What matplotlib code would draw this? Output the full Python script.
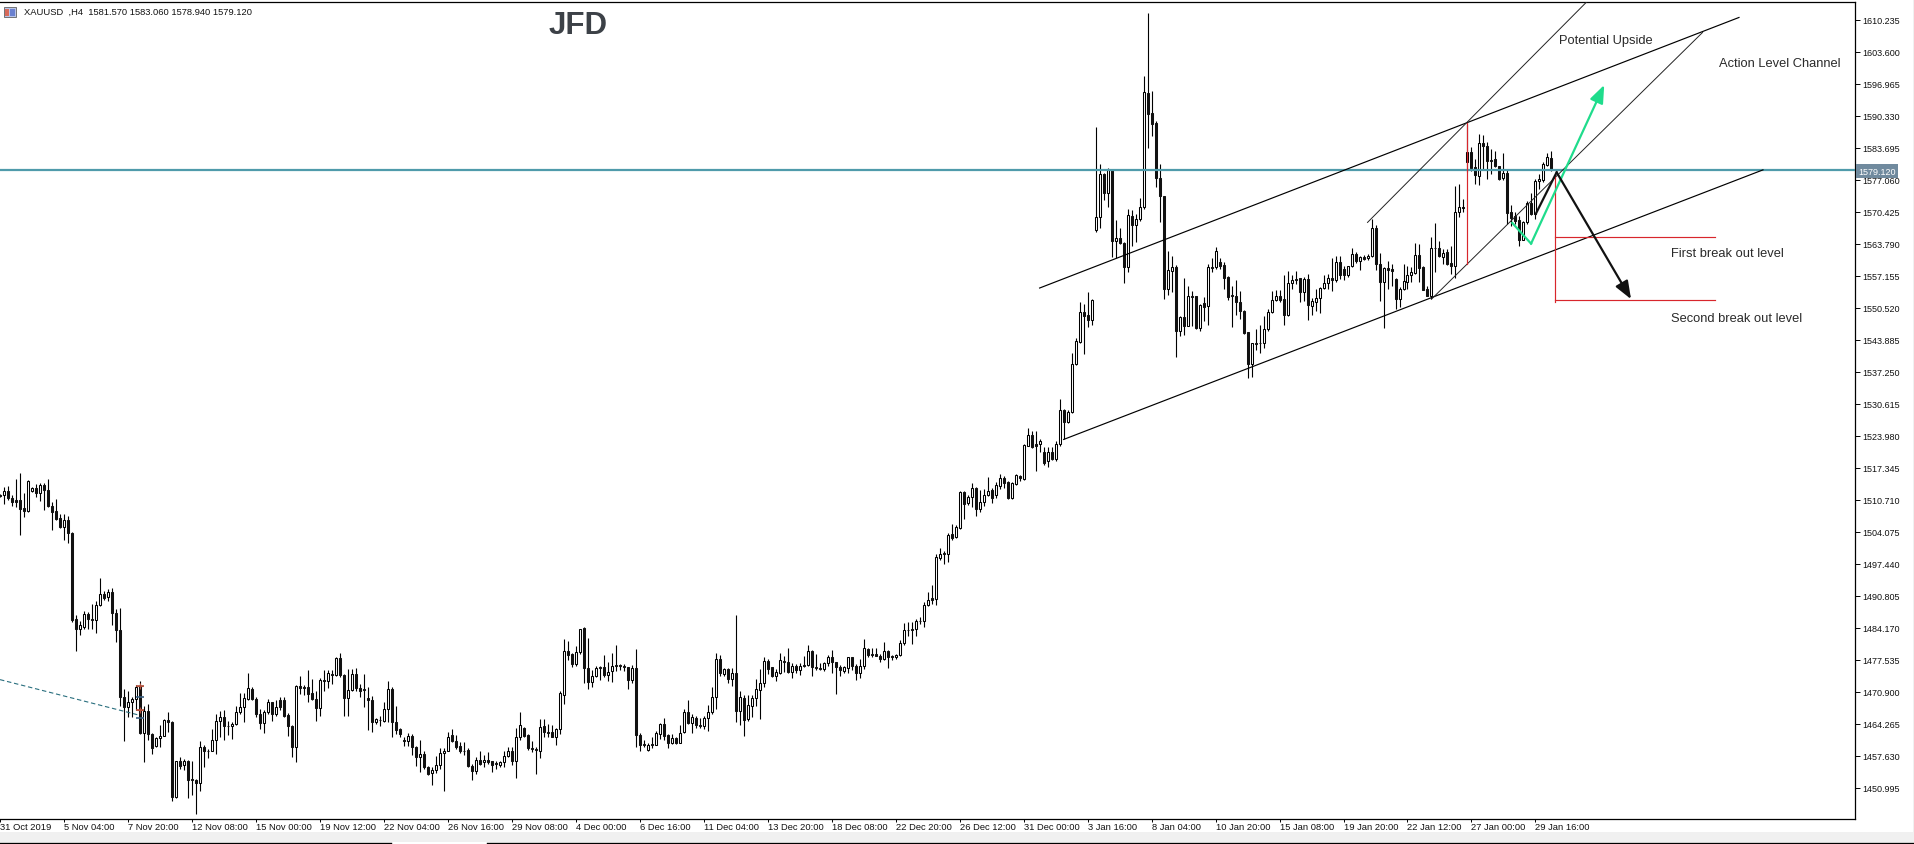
import numpy as np
import matplotlib
matplotlib.use('Agg')
import matplotlib.pyplot as plt
from matplotlib.patches import Rectangle

plt.rcParams['font.family'] = ['Liberation Sans', 'DejaVu Sans']

# --- XAUUSD H4 candles ---
opens = [
    1511.7,1511.6,1512.5,1511.0,1510.6,1510.7,1509.0,1508.4,1512.6,1513.1,
    1512.2,1513.8,1512.7,1509.3,1508.3,1506.9,1505.1,1506.5,1503.9,1485.9,
    1483.9,1484.3,1487.0,1485.9,1485.8,1488.9,1491.2,1490.5,1491.5,1487.2,
    1483.6,1469.9,1467.7,1468.7,1469.3,1472.0,1462.3,1466.8,1462.1,1459.7,
    1461.2,1461.8,1465.0,1464.6,1449.0,1456.5,1455.6,1456.5,1452.7,1452.6,
    1451.9,1459.4,1458.7,1458.7,1460.8,1464.9,1465.6,1463.8,1463.7,1464.2,
    1466.6,1467.7,1469.4,1471.5,1469.4,1466.3,1464.4,1466.6,1468.7,1466.3,
    1469.1,1469.2,1466.1,1463.7,1459.4,1472.0,1471.9,1471.8,1470.6,1469.4,
    1467.6,1473.3,1473.2,1474.5,1474.4,1477.9,1474.4,1469.5,1471.3,1474.5,
    1471.6,1471.5,1469.5,1469.2,1464.7,1465.1,1464.9,1467.3,1471.5,1464.7,
    1463.2,1460.9,1460.6,1461.7,1459.4,1457.3,1457.9,1455.2,1454.0,1454.7,
    1455.6,1458.1,1458.7,1461.9,1460.6,1459.6,1458.7,1458.8,1455.4,1454.5,
    1456.8,1456.3,1456.8,1456.5,1456.1,1455.8,1456.3,1457.5,1458.5,1456.6,
    1461.6,1463.3,1461.9,1459.2,1459.0,1458.7,1463.7,1462.6,1462.6,1461.6,
    1463.2,1470.3,1479.3,1478.7,1476.7,1479.1,1484.1,1475.8,1473.0,1474.2,
    1476.0,1476.0,1474.4,1475.1,1476.4,1476.4,1476.2,1476.0,1473.4,1475.8,
    1461.9,1460.1,1458.9,1460.1,1459.9,1462.2,1464.2,1461.9,1460.3,1461.2,
    1460.3,1462.5,1466.6,1464.4,1465.4,1463.9,1463.7,1465.4,1466.6,1469.7,
    1477.7,1474.6,1475.6,1473.5,1474.7,1466.8,1469.6,1465.3,1468.0,1469.5,
    1471.3,1472.6,1477.2,1476.0,1474.2,1474.8,1477.3,1477.0,1474.9,1476.3,
    1475.5,1476.5,1476.5,1479.3,1476.0,1475.8,1475.6,1476.8,1478.0,1477.0,
    1476.0,1475.1,1475.8,1478.0,1476.2,1474.7,1476.3,1479.8,1478.7,1478.7,
    1478.4,1477.6,1479.4,1478.2,1478.0,1478.5,1480.9,1483.7,1483.8,1483.8,
    1485.6,1485.6,1488.9,1490.3,1490.1,1498.6,1499.6,1499.5,1503.5,1502.9,
    1504.9,1512.3,1510.0,1511.2,1513.1,1508.7,1510.2,1511.6,1512.7,1511.7,
    1513.6,1515.2,1514.3,1511.0,1513.9,1515.6,1514.9,1521.9,1524.1,1522.2,
    1522.2,1520.5,1518.7,1520.7,1519.2,1522.3,1529.3,1526.9,1528.8,1538.8,
    1543.4,1549.6,1549.0,1548.0,1566.7,1569.4,1578.3,1574.2,1579.1,1564.4,
    1565.0,1563.9,1559.0,1569.6,1567.7,1568.9,1571.3,1595.0,1590.8,1588.8,
    1577.4,1573.6,1554.3,1558.2,1558.9,1545.6,1548.5,1546.8,1553.0,1552.9,
    1546.3,1551.5,1550.8,1558.9,1558.9,1559.9,1559.4,1556.8,1553.1,1553.0,
    1551.6,1549.9,1545.4,1538.8,1543.2,1543.3,1543.1,1546.2,1549.7,1552.2,
    1552.9,1552.3,1549.1,1555.6,1556.5,1556.6,1553.7,1556.5,1550.8,1551.8,
    1552.5,1554.7,1555.6,1556.6,1556.3,1559.9,1558.5,1557.2,1559.1,1561.6,
    1560.3,1561.1,1560.8,1561.3,1567.0,1559.5,1555.8,1558.7,1558.6,1556.5,
    1552.3,1554.4,1555.9,1557.3,1557.7,1561.5,1558.9,1554.3,1553.0,1563.0,
    1563.0,1561.0,1562.1,1559.8,1559.2,1570.3,1571.1,1580.7,1582.9,1579.6,
    1577.9,1584.6,1584.1,1581.2,1581.4,1579.8,1577.4,1578.4,1570.3,1569.6,
    1568.7,1564.6,1568.2,1572.2,1569.9,1576.7,1577.0,1580.2,1581.57]
highs = [
    1511.9,1513.3,1513.6,1511.6,1515.0,1516.3,1512.2,1514.7,1513.4,1514.0,
    1514.2,1514.2,1515.0,1510.2,1510.9,1507.8,1507.8,1507.3,1504.1,1486.7,
    1485.6,1487.7,1487.5,1489.1,1489.8,1494.4,1491.7,1492.2,1492.4,1488.1,
    1488.3,1471.5,1471.1,1469.9,1472.2,1473.1,1468.0,1468.4,1462.3,1461.5,
    1463.9,1465.3,1466.6,1464.9,1456.6,1457.3,1457.0,1456.8,1456.6,1452.7,
    1460.6,1459.9,1459.0,1463.2,1466.3,1466.8,1467.0,1464.9,1464.7,1468.0,
    1470.6,1470.6,1474.8,1471.8,1469.7,1467.3,1467.2,1469.3,1468.8,1469.1,
    1469.7,1469.7,1466.5,1463.9,1472.2,1474.1,1472.2,1475.4,1473.5,1471.1,
    1473.7,1475.4,1475.3,1475.3,1478.0,1478.9,1474.6,1475.6,1475.6,1475.8,
    1472.5,1474.6,1471.8,1470.1,1465.4,1465.8,1468.7,1473.2,1471.8,1468.0,
    1463.4,1461.5,1462.4,1462.1,1459.7,1460.8,1458.7,1455.4,1455.2,1457.5,
    1459.2,1459.2,1462.6,1463.2,1461.9,1460.4,1460.4,1459.2,1455.9,1457.3,
    1458.5,1457.7,1458.3,1456.6,1456.6,1456.6,1458.7,1459.4,1459.4,1463.4,
    1466.6,1463.5,1462.1,1460.7,1459.4,1465.3,1465.3,1464.2,1464.0,1463.3,
    1471.0,1481.8,1481.4,1478.9,1480.3,1484.0,1484.3,1482.0,1475.3,1476.2,
    1476.3,1478.5,1477.0,1478.9,1480.6,1476.7,1476.7,1476.1,1476.4,1479.8,
    1462.3,1460.9,1460.3,1461.6,1462.8,1464.4,1465.4,1462.1,1462.1,1461.6,
    1463.9,1467.3,1469.2,1466.3,1465.8,1465.4,1465.9,1468.2,1471.8,1478.9,
    1478.5,1475.9,1475.8,1475.8,1486.8,1471.1,1470.3,1470.2,1470.2,1473.5,
    1475.6,1478.0,1477.7,1476.1,1475.6,1478.9,1478.4,1479.9,1476.9,1476.7,
    1476.9,1478.2,1480.6,1479.6,1478.7,1476.9,1477.0,1478.5,1479.6,1477.1,
    1476.4,1476.3,1478.0,1478.1,1476.7,1477.7,1481.8,1480.0,1479.9,1479.9,
    1478.7,1481.2,1479.6,1478.5,1478.7,1481.6,1485.2,1485.3,1485.3,1486.0,
    1486.3,1489.6,1491.5,1493.0,1499.5,1500.6,1500.1,1503.8,1505.6,1505.5,
    1512.6,1512.6,1511.6,1514.1,1513.4,1512.7,1512.9,1515.4,1513.1,1514.3,
    1516.0,1515.6,1514.5,1514.3,1516.1,1515.8,1522.2,1525.6,1524.9,1524.9,
    1523.2,1521.6,1521.6,1521.6,1522.8,1531.6,1529.5,1529.3,1541.1,1544.2,
    1551.7,1551.3,1553.7,1552.3,1587.9,1580.3,1578.5,1579.4,1579.3,1568.7,
    1567.0,1564.1,1571.0,1570.8,1570.0,1573.2,1598.5,1611.6,1595.4,1589.2,
    1580.3,1573.7,1562.3,1561.3,1559.4,1548.7,1556.6,1555.1,1554.0,1553.0,
    1551.3,1552.8,1559.6,1560.9,1563.2,1560.9,1560.0,1557.0,1555.1,1556.2,
    1554.0,1550.1,1545.5,1543.3,1546.2,1546.9,1548.9,1550.2,1554.0,1554.2,
    1554.2,1557.3,1558.2,1557.3,1558.2,1556.6,1556.8,1557.5,1552.6,1554.4,
    1554.9,1557.3,1557.5,1560.9,1561.3,1561.3,1559.2,1559.2,1562.8,1562.0,
    1561.3,1561.4,1561.7,1568.9,1567.7,1561.8,1558.9,1560.1,1559.6,1556.6,
    1554.8,1559.6,1559.2,1558.9,1563.9,1563.7,1559.2,1555.1,1565.1,1568.0,
    1564.4,1562.7,1562.6,1563.4,1575.7,1576.2,1573.1,1588.7,1583.8,1581.4,
    1586.5,1586.3,1584.8,1583.4,1583.1,1580.0,1582.5,1579.3,1571.8,1570.3,
    1569.5,1568.6,1572.6,1574.4,1577.2,1578.2,1580.7,1582.7,1583.06]
lows = [
    1511.2,1509.8,1510.7,1509.5,1509.1,1503.3,1507.2,1508.2,1512.4,1511.2,
    1510.5,1508.6,1509.1,1504.5,1506.4,1504.8,1502.4,1501.7,1485.3,1479.4,
    1482.7,1483.9,1483.9,1484.0,1483.0,1488.7,1490.0,1489.8,1484.8,1481.1,
    1468.0,1460.6,1465.6,1465.6,1467.0,1462.1,1456.3,1460.8,1457.9,1459.4,
    1459.4,1461.7,1462.5,1448.3,1448.8,1454.9,1454.7,1448.9,1449.4,1445.6,
    1450.4,1455.2,1457.2,1458.5,1457.9,1461.6,1460.8,1461.9,1461.1,1464.0,
    1466.3,1464.7,1469.1,1469.1,1465.6,1463.2,1462.4,1466.3,1464.9,1465.9,
    1467.2,1465.6,1461.8,1457.4,1456.4,1470.4,1470.2,1468.7,1469.1,1464.9,
    1465.9,1471.1,1471.6,1472.5,1474.1,1473.9,1465.9,1465.9,1471.1,1471.1,
    1469.7,1467.7,1463.0,1462.5,1464.1,1463.7,1464.6,1464.7,1461.5,1462.1,
    1461.6,1459.7,1459.7,1457.7,1455.4,1454.2,1454.9,1453.6,1451.6,1454.0,
    1454.9,1450.3,1458.5,1460.4,1459.0,1458.1,1457.7,1455.2,1452.6,1453.9,
    1455.6,1455.2,1455.9,1454.3,1454.9,1455.2,1455.2,1457.3,1455.7,1453.1,
    1460.9,1461.5,1458.9,1458.3,1453.9,1457.2,1461.5,1461.5,1461.5,1459.9,
    1462.1,1468.4,1477.5,1476.1,1476.3,1478.7,1472.7,1471.5,1471.8,1474.0,
    1473.3,1473.9,1473.1,1472.9,1475.2,1475.3,1475.1,1471.5,1472.6,1459.5,
    1458.7,1459.4,1458.7,1459.2,1459.8,1461.1,1460.9,1459.2,1460.1,1460.1,
    1460.2,1462.3,1464.2,1462.4,1463.3,1463.3,1463.2,1462.8,1466.3,1467.3,
    1474.2,1474.2,1472.6,1472.0,1464.6,1463.9,1461.8,1464.9,1465.6,1468.0,
    1465.3,1471.8,1474.6,1473.9,1473.2,1474.6,1474.9,1474.7,1473.8,1474.7,
    1474.4,1476.1,1476.3,1474.2,1475.3,1475.3,1475.1,1476.3,1474.8,1470.4,
    1474.2,1474.7,1474.7,1475.5,1473.4,1473.7,1475.6,1478.0,1478.0,1478.2,
    1477.0,1477.4,1475.9,1477.4,1477.6,1478.4,1480.5,1482.4,1480.7,1482.4,
    1484.9,1484.4,1488.7,1489.1,1488.9,1498.3,1497.4,1497.7,1502.4,1502.8,
    1504.6,1506.7,1509.6,1509.1,1507.4,1508.2,1509.5,1511.4,1510.0,1511.1,
    1512.9,1513.1,1510.9,1510.9,1513.8,1514.5,1514.8,1521.8,1521.4,1516.7,
    1520.5,1518.0,1517.4,1518.9,1518.7,1521.8,1523.3,1526.6,1528.6,1538.6,
    1543.2,1540.9,1546.5,1546.9,1566.3,1567.0,1572.9,1571.3,1561.0,1560.8,
    1563.7,1555.6,1558.0,1563.4,1564.1,1568.4,1570.9,1583.6,1586.1,1575.6,
    1568.2,1552.3,1553.2,1553.7,1540.4,1544.7,1544.9,1546.7,1546.8,1546.2,
    1545.7,1547.7,1546.9,1557.9,1558.5,1558.5,1554.4,1552.2,1546.6,1549.0,
    1548.2,1545.1,1535.9,1536.1,1541.8,1541.2,1542.1,1545.6,1549.5,1552.0,
    1551.8,1547.0,1548.9,1554.4,1555.4,1551.6,1552.0,1548.0,1549.1,1549.9,
    1549.4,1554.4,1554.4,1554.0,1555.9,1556.5,1556.3,1556.8,1558.9,1559.8,
    1558.4,1560.4,1560.4,1561.0,1558.4,1552.0,1546.3,1554.4,1555.1,1550.2,
    1550.6,1554.2,1554.5,1555.9,1557.5,1555.8,1554.1,1552.9,1552.3,1557.9,
    1561.0,1559.6,1559.4,1557.5,1556.7,1569.3,1570.3,1578.6,1578.9,1576.2,
    1576.0,1579.3,1577.2,1578.2,1579.6,1577.1,1577.1,1567.9,1567.5,1567.9,
    1563.4,1564.6,1567.9,1569.7,1568.9,1575.1,1576.5,1580.0,1578.94]
closes = [
    1511.4,1512.5,1511.0,1510.3,1510.3,1508.8,1508.4,1514.5,1513.1,1512.2,
    1513.8,1512.7,1509.3,1508.2,1506.7,1505.1,1506.5,1503.9,1485.8,1483.8,
    1484.7,1487.0,1486.0,1485.7,1488.9,1491.2,1490.3,1491.5,1487.2,1483.6,
    1469.7,1467.8,1468.7,1469.4,1471.8,1462.3,1466.8,1462.1,1459.2,1461.2,
    1461.8,1465.0,1464.6,1449.0,1456.5,1455.4,1456.5,1452.6,1452.6,1451.9,
    1459.4,1458.5,1458.5,1460.8,1464.9,1465.6,1463.7,1463.7,1464.2,1466.6,
    1467.7,1469.5,1471.6,1469.4,1466.2,1464.4,1466.6,1468.7,1466.3,1467.8,
    1467.7,1465.9,1463.7,1459.4,1472.0,1471.6,1471.7,1470.4,1469.4,1467.6,
    1473.3,1473.2,1474.7,1474.4,1477.9,1474.4,1469.5,1471.3,1474.5,1471.6,
    1471.1,1471.3,1469.1,1464.7,1465.3,1465.0,1467.3,1471.5,1464.7,1463.0,
    1462.1,1460.6,1461.7,1459.4,1457.3,1458.0,1455.2,1453.9,1454.7,1455.7,
    1458.1,1458.7,1461.6,1460.6,1459.4,1458.5,1458.5,1455.4,1454.5,1456.8,
    1455.9,1456.8,1456.3,1455.8,1455.9,1456.3,1457.5,1458.5,1456.6,1461.6,
    1463.9,1461.7,1459.2,1459.0,1458.8,1463.5,1462.5,1462.4,1461.6,1463.2,
    1470.6,1479.3,1478.5,1476.7,1479.1,1483.9,1475.8,1473.0,1474.2,1475.8,
    1475.8,1474.4,1474.9,1476.3,1476.2,1476.2,1476.1,1473.4,1475.8,1462.0,
    1459.9,1459.9,1459.9,1459.9,1462.4,1464.2,1461.8,1460.3,1461.3,1460.3,
    1462.4,1466.6,1464.4,1465.6,1463.9,1463.7,1465.4,1466.6,1469.7,1477.7,
    1474.7,1475.6,1473.5,1474.7,1466.8,1469.7,1465.1,1468.2,1469.5,1471.5,
    1472.6,1477.2,1475.6,1474.2,1474.9,1477.5,1477.0,1474.9,1476.3,1475.5,
    1476.3,1476.3,1479.3,1476.0,1475.8,1475.7,1476.8,1478.0,1477.0,1476.0,
    1475.3,1476.0,1478.0,1476.2,1474.7,1476.3,1479.9,1478.6,1478.5,1478.4,
    1477.6,1479.4,1478.0,1478.0,1478.6,1480.9,1483.6,1483.6,1483.6,1485.6,
    1485.5,1488.9,1490.0,1490.0,1498.8,1499.5,1499.4,1503.3,1502.8,1505.1,
    1512.3,1509.8,1511.2,1513.1,1508.7,1510.2,1511.6,1512.6,1511.0,1513.8,
    1515.2,1514.2,1511.0,1514.2,1515.8,1515.2,1522.1,1524.1,1521.7,1521.9,
    1522.9,1518.3,1520.7,1519.2,1522.3,1529.3,1526.9,1528.8,1538.8,1543.6,
    1549.6,1548.9,1548.0,1552.1,1569.4,1578.2,1574.2,1579.1,1564.4,1564.9,
    1563.9,1559.0,1569.8,1567.7,1568.9,1571.3,1595.2,1590.7,1588.6,1577.4,
    1573.7,1554.3,1558.4,1558.9,1545.6,1548.5,1546.8,1552.9,1552.7,1546.4,
    1551.1,1550.7,1558.9,1558.7,1562.2,1559.1,1556.7,1552.8,1552.9,1551.6,
    1549.9,1545.2,1538.8,1543.1,1543.0,1543.1,1546.2,1549.7,1552.2,1552.9,
    1552.2,1549.1,1555.6,1556.3,1556.3,1553.7,1556.5,1551.0,1551.9,1552.5,
    1554.7,1555.6,1556.6,1556.3,1559.9,1557.4,1557.2,1559.1,1561.7,1560.3,
    1561.1,1560.7,1561.3,1567.0,1559.5,1555.8,1558.7,1558.4,1558.2,1552.3,
    1554.5,1556.0,1557.3,1557.9,1561.5,1558.7,1554.2,1553.0,1562.8,1562.8,
    1561.2,1561.9,1559.6,1559.2,1570.3,1571.3,1571.5,1582.9,1579.5,1578.1,
    1584.6,1584.0,1581.0,1581.0,1579.8,1577.2,1578.4,1570.2,1569.1,1568.6,
    1564.6,1568.2,1572.2,1569.9,1576.8,1577.2,1580.3,1581.7,1579.12]

# axis labels
date_labels = ['31 Oct 2019', '5 Nov 04:00', '7 Nov 20:00', '12 Nov 08:00', '15 Nov 00:00',
               '19 Nov 12:00', '22 Nov 04:00', '26 Nov 16:00', '29 Nov 08:00', '4 Dec 00:00',
               '6 Dec 16:00', '11 Dec 04:00', '13 Dec 20:00', '18 Dec 08:00', '22 Dec 20:00',
               '26 Dec 12:00', '31 Dec 00:00', '3 Jan 16:00', '8 Jan 04:00', '10 Jan 20:00',
               '15 Jan 08:00', '19 Jan 20:00', '22 Jan 12:00', '27 Jan 00:00', '29 Jan 16:00']
price_ticks = [1450.995, 1457.63, 1464.265, 1470.9, 1477.535, 1484.17, 1490.805, 1497.44,
               1504.075, 1510.71, 1517.345, 1523.98, 1530.615, 1537.25, 1543.885, 1550.52,
               1557.155, 1563.79, 1570.425, 1577.06, 1583.695, 1590.33, 1596.965, 1603.6, 1610.235]
last_price = 1579.12

# drawn objects as (bar index, price)
lower_channel = ([266, 440.9], [1523.2, 1579.1])
upper_channel = ([260, 434.9], [1554.6, 1610.7])
steep_left = ([342, 396.9], [1568.2, 1614.0])
steep_right = ([358, 425.8], [1552.3, 1607.6])
red_left = ([367, 367], [1588.8, 1559.6])
red_right = ([389, 389], [1578.0, 1551.7])
first_level = ([389, 428.9], [1565.1, 1565.1])
second_level = ([389, 428.9], [1552.1, 1552.1])
green_leg = ([378.2, 382.9, 401.2], [1568.1, 1563.8, 1596.7])
black_leg = ([384.1, 389.3, 407.9], [1570.0, 1578.6, 1552.3])
dashed_line = ([0, 34.5], [1473.4, 1466.1])
sell_marks = ([35, 35], [1472.1, 1467.2])
buy_marks = ([35, 35], [1469.8, 1465.4])

W, H = 1914, 845
fig = plt.figure(figsize=(W / 100, H / 100), dpi=100, facecolor='white')

# window chrome in pixel coordinates
chrome = fig.add_axes([0, 0, 1, 1], zorder=0)
chrome.set_xlim(0, W)
chrome.set_ylim(H, 0)
chrome.axis('off')
chrome.add_patch(Rectangle((0, 833), W, 9.5, fc='#f0f0f0', ec='none'))
chrome.add_patch(Rectangle((1912.5, 0), 1.5, 842, fc='#f0f0f0', ec='none'))
chrome.plot([0, 391], [843.5, 843.5], color='black', lw=1)
chrome.plot([487, W], [843.5, 843.5], color='black', lw=1)

# chart area: x=0..1855, y=2.5..820 in pixels, one bar every 4 pixels
left, right, top, bottom = 0, 1855.3, 2.5, 820.3
ax = fig.add_axes([left / W, 1 - bottom / H, (right - left) / W, (bottom - top) / H], zorder=1)
ax.set_xlim(0.1675, 463.99)
ax.set_ylim(1444.44, 1614.01)
ax.patch.set_alpha(0)

o, h, l, c = map(np.array, (opens, highs, lows, closes))
idx = np.arange(len(o))
ax.vlines(idx, l, h, color='black', lw=0.8, zorder=2)
up = c >= o
ax.bar(idx[up], (c - o)[up], bottom=o[up], width=0.5, facecolor='white',
       edgecolor='black', lw=0.75, zorder=3)
ax.bar(idx[~up], (o - c)[~up], bottom=c[~up], width=0.5, facecolor='#111111',
       edgecolor='#111111', lw=0.75, zorder=3)

# current price line
ax.axhline(last_price, color='#4f9bab', lw=1.6, zorder=4)

# channels and helper lines
for line in (lower_channel, upper_channel):
    ax.plot(*line, color='black', lw=0.85, zorder=5)
for line in (steep_left, steep_right):
    ax.plot(*line, color='#222222', lw=0.7, zorder=5)
for line in (red_left, red_right, first_level, second_level):
    ax.plot(*line, color='#d8262c', lw=0.85, zorder=5)
ax.plot(*dashed_line, color='#2a6f7f', lw=0.8, ls=(0, (4, 2.5)), zorder=5)
ax.plot(*sell_marks, ls='none', marker='_', ms=6, mew=1.2, color='#b0503c', zorder=6)
ax.plot(*sell_marks, ls='none', marker='+', ms=5, mew=0.8, color='#b0503c', zorder=6)
ax.plot(*buy_marks, ls='none', marker='_', ms=6, mew=1.2, color='#3a5f80', zorder=6)

# scenario arrows
ax.plot(green_leg[0][:2], green_leg[1][:2], color='#1fdc8c', lw=1.6, zorder=7)
ax.annotate('', xy=(green_leg[0][2], green_leg[1][2]), xytext=(green_leg[0][1], green_leg[1][1]),
            arrowprops=dict(arrowstyle='-|>,head_length=0.9,head_width=0.35', color='#1fdc8c', lw=1.6,
                            shrinkA=0, shrinkB=0, mutation_scale=12), zorder=7)
ax.plot(black_leg[0][:2], black_leg[1][:2], color='#111111', lw=1.6, zorder=8)
ax.annotate('', xy=(black_leg[0][2], black_leg[1][2]), xytext=(black_leg[0][1], black_leg[1][1]),
            arrowprops=dict(arrowstyle='-|>,head_length=0.9,head_width=0.35', color='#111111', lw=1.6,
                            shrinkA=0, shrinkB=0, mutation_scale=12), zorder=8)

# notes
note_font = dict(fontsize=9.25, color='#2a2a2a', va='center', ha='left', zorder=9)
ax.text(389.9, 1606.1, 'Potential Upside', **note_font)
ax.text(429.9, 1601.2, 'Action Level Channel', **note_font)
ax.text(418, 1561.8, 'First break out level', **note_font)
ax.text(418, 1548.3, 'Second break out level', **note_font)

# axes
for side in ('left',):
    ax.spines[side].set_visible(False)
for side in ('top', 'right', 'bottom'):
    ax.spines[side].set_linewidth(0.9)
ax.yaxis.tick_right()
ax.set_yticks(price_ticks)
ax.set_yticklabels(['%.3f' % p for p in price_ticks])
ax.tick_params(axis='y', length=3.5, width=0.7, pad=1.5, labelsize=6.5, labelcolor='#111111')
ax.set_xticks(np.arange(len(date_labels)) * 16)
ax.set_xticklabels(date_labels, ha='left')
ax.tick_params(axis='x', length=2.5, width=0.7, pad=-0.8, labelsize=6.75, labelcolor='#111111')
for t in ax.get_xticklabels():
    t.set_clip_on(False)

# current price flag over the axis labels
ax.text(1.0017, last_price - 0.35, '%.3f' % last_price, transform=ax.get_yaxis_transform(),
        fontsize=6.5, color='white', va='center', ha='left', zorder=10,
        bbox=dict(boxstyle='square,pad=0.28', fc='#708a9e', ec='none'), clip_on=False)

# header and logo
chrome.text(23.5, 12.5, 'XAUUSD  ,H4  1581.570 1583.060 1578.940 1579.120', fontsize=6.75,
            color='#111111', va='center', ha='left')
chrome.add_patch(Rectangle((3.5, 8), 12, 9.5, fc='#b8c4e8', ec='#606060', lw=0.6))
chrome.add_patch(Rectangle((5, 9.5), 4, 7, fc='#d86a5a', ec='none'))
chrome.add_patch(Rectangle((10, 9.5), 4.5, 7, fc='#6a80d0', ec='none'))
chrome.text(549, 26, 'JFD', fontsize=22.5, fontweight='bold', color='#3c4147', va='center', ha='left')

fig.savefig('out.png', dpi=100, facecolor='white')
